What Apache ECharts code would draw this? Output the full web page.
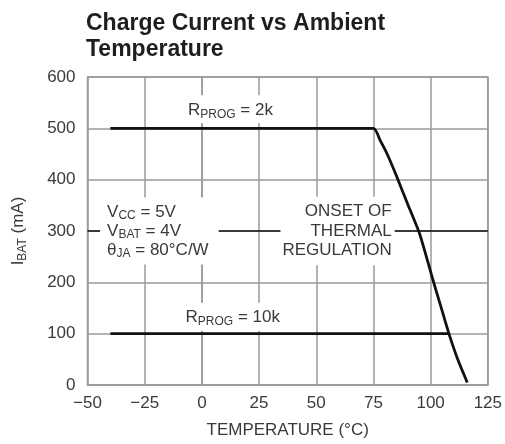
<!DOCTYPE html>
<html>
<head>
<meta charset="utf-8">
<script src="https://cdn.jsdelivr.net/npm/echarts@6/dist/echarts.min.js"></script>
<style>html,body{margin:0;padding:0;background:#fff;}#c{width:505px;height:444px;}</style>
</head>
<body>
<div id="c"></div>
<script>
// ---- data ----
const tempTicks = [-50, -25, 0, 25, 50, 75, 100, 125];
const currentTicks = [0, 100, 200, 300, 400, 500, 600];
const temps2k = [-40, 75, 78, 81, 85, 90, 95, 98, 101, 104, 108, 112, 116];
const current2k = [500, 500, 476, 450, 408, 352, 297, 252, 205, 160, 100, 48, 5];
const temps10k = [-40, 108];
const current10k = [100, 100];
const leaderLevel = 300;

const FONT = '"Liberation Sans", Arial, Helvetica, sans-serif';
const TXT = '#3a3a3a';
const GRIDC = '#9a9a9a';

const chart = echarts.init(document.getElementById('c'), null, {renderer: 'canvas'});

const toPairs = (xs, ys) => xs.map((x, i) => [x, ys[i]]);

chart.setOption({
  animation: false,
  backgroundColor: '#fff',
  title: {
    text: 'Charge Current vs Ambient\nTemperature',
    left: 81, top: 6,
    textStyle: {fontFamily: FONT, fontSize: 23, fontWeight: 'bold', color: '#1e1e1e', lineHeight: 26}
  },
  grid: {left: 84, right: 14, top: 77, bottom: 54, show: true, borderColor: GRIDC, borderWidth: 1.5},
  xAxis: {
    type: 'value',
    min: tempTicks[0], max: tempTicks[tempTicks.length - 1], interval: 25,
    axisLine: {show: true, lineStyle: {color: GRIDC, width: 1.5}},
    axisTick: {show: false},
    splitLine: {show: true, lineStyle: {color: GRIDC, width: 1.5}},
    axisLabel: {
      color: TXT, fontFamily: FONT, fontSize: 17, margin: 10,
      formatter: v => String(v).replace('-', '\u2212')
    },
    name: 'TEMPERATURE (\u00B0C)',
    nameLocation: 'middle', nameGap: 37,
    nameTextStyle: {color: TXT, fontFamily: FONT, fontSize: 17, verticalAlign: 'top'}
  },
  yAxis: {
    type: 'value',
    min: currentTicks[0], max: currentTicks[currentTicks.length - 1], interval: 100,
    axisLine: {show: true, lineStyle: {color: GRIDC, width: 1.5}},
    axisTick: {show: false},
    splitLine: {show: true, lineStyle: {color: GRIDC, width: 1.5}},
    axisLabel: {color: TXT, fontFamily: FONT, fontSize: 17, margin: 12},
    name: '{a|I}{s|BAT}{a| (mA)}',
    nameLocation: 'middle', nameGap: 58, nameRotate: 90,
    nameTextStyle: {
      color: TXT, fontFamily: FONT, fontSize: 17,
      rich: {
        a: {color: TXT, fontFamily: FONT, fontSize: 17, lineHeight: 22},
        s: {color: TXT, fontFamily: FONT, fontSize: 12, lineHeight: 14, padding: [9, 0, 0, 0]}
      }
    }
  },
  series: [
    {
      type: 'line', name: 'leader', data: [], silent: true,
      markLine: {
        symbol: 'none', silent: true, label: {show: false},
        lineStyle: {color: '#111', width: 1.5, type: 'solid'},
        data: [{yAxis: leaderLevel}]
      }
    },
    {
      type: 'line', name: 'RPROG 2k', data: toPairs(temps2k, current2k),
      showSymbol: false, symbol: 'none', smooth: 0.2,
      lineStyle: {color: '#111', width: 2.8}, z: 5
    },
    {
      type: 'line', name: 'RPROG 10k', data: toPairs(temps10k, current10k),
      showSymbol: false, symbol: 'none',
      lineStyle: {color: '#111', width: 2.8}, z: 5
    }
  ]
});

// ---- annotations (positioned through the axes) ----
const px = (x, y) => chart.convertToPixel({gridIndex: 0}, [x, y]);
const R = (fs, lh, sub, pad) => ({
  b: {fill: TXT, fontFamily: FONT, fontSize: fs, lineHeight: lh},
  s: {fill: TXT, fontFamily: FONT, fontSize: sub, lineHeight: lh - pad, padding: [pad, 0, 0, 0]}
});

const p2k = px(12.5, 537);
const p10k = px(13.5, 133);
const pVcc = px(-44.5, 300);
const pOn = px(84.3, 300);

chart.setOption({
  graphic: [
    {
      type: 'text', x: p2k[0], y: p2k[1], z: 100,
      style: {
        text: '{b|R}{s|PROG}{b| = 2k}', rich: R(17, 23, 12, 9),
        align: 'center', verticalAlign: 'middle',
        backgroundColor: '#fff', padding: [3, 4, 2, 4]
      }
    },
    {
      type: 'text', x: p10k[0], y: p10k[1], z: 100,
      style: {
        text: '{b|R}{s|PROG}{b| = 10k}', rich: R(17, 23, 12, 9),
        align: 'center', verticalAlign: 'middle',
        backgroundColor: '#fff', padding: [3, 4, 2, 4]
      }
    },
    {
      type: 'text', x: pVcc[0], y: pVcc[1], z: 100,
      style: {
        text: '{b|V}{s|CC}{b| = 5V}\n{b|V}{s|BAT}{b| = 4V}\n{b|\u03B8}{s|JA}{b| = 80\u00B0C/W}',
        rich: R(17, 19, 12, 7),
        align: 'left', verticalAlign: 'middle',
        backgroundColor: '#fff', padding: [5, 10, 5, 7]
      }
    },
    {
      type: 'text', x: pOn[0], y: pOn[1], z: 100,
      style: {
        text: 'ONSET OF\nTHERMAL\nREGULATION',
        fill: TXT, font: '17px ' + FONT, lineHeight: 19.5,
        align: 'right', verticalAlign: 'middle',
        backgroundColor: '#fff', padding: [5, 3, 5, 2]
      }
    }
  ]
});
</script>
</body>
</html>
